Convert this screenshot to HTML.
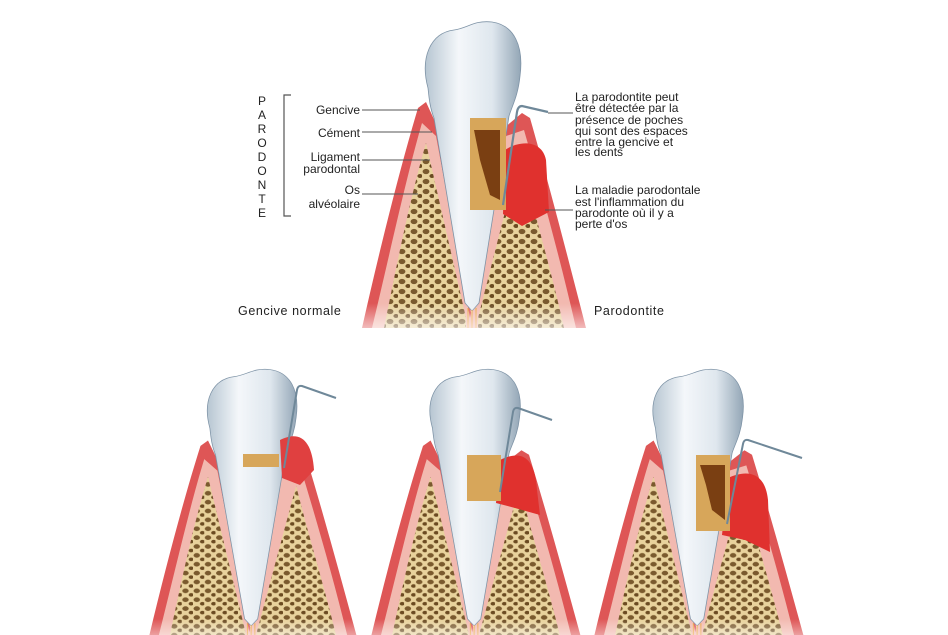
<!DOCTYPE html>
<html><head><meta charset="utf-8"><style>
body{margin:0;background:#fff;}
svg{display:block;}
text{font-family:"Liberation Sans",sans-serif;fill:#222;}
</style></head><body>
<svg width="948" height="635" viewBox="0 0 948 635" xmlns="http://www.w3.org/2000/svg">
<defs>
<pattern id="bone" width="12" height="10" patternUnits="userSpaceOnUse">
<rect width="12" height="10" fill="#e8d29c"/>
<ellipse cx="4" cy="3.5" rx="3.4" ry="2.6" fill="#7a5a2e"/>
<ellipse cx="10" cy="8" rx="2.6" ry="2" fill="#6b4b22"/>
</pattern>
<linearGradient id="tooth" x1="0" x2="1">
<stop offset="0" stop-color="#b7c6d2"/><stop offset="0.35" stop-color="#f4f7fa"/><stop offset="0.7" stop-color="#dfe7ee"/><stop offset="1" stop-color="#93a6b6"/>
</linearGradient>
<linearGradient id="fade" x1="0" y1="0" x2="0" y2="1">
<stop offset="0.92" stop-color="#fff" stop-opacity="0"/><stop offset="1" stop-color="#fff" stop-opacity="0.6"/>
</linearGradient>
<symbol id="t" viewBox="0 0 224 310" preserveAspectRatio="none">
<path d="M0,310 C18,230 38,150 56,90 L64,84 L76,110 L110,300 L142,110 L160,95 L168,100 C188,170 206,240 224,310 Z" fill="#de5656"/>
<path d="M10,310 C28,235 44,160 60,105 L74,118 L108,300 L144,118 L162,112 C180,175 198,240 214,310 Z" fill="#f2b9b0"/>
<path d="M22,310 C34,250 48,180 64,125 L104,300 L104,310 Z" fill="url(#bone)"/>
<path d="M202,310 C190,255 172,195 158,135 L116,300 L116,310 Z" fill="url(#bone)"/>
<path d="M66,70 C58,40 68,15 92,12 C106,10 112,2 130,4 C152,7 162,28 158,58 C156,78 150,88 147,98 L117,285 L110,293 L103,285 L72,100 C68,90 67,80 66,70 Z" fill="url(#tooth)" stroke="#7e93a6" stroke-width="0.8"/>
<path d="M106,290 L106,310 M110,292 L110,310 M114,290 L114,310" stroke="#e8a030" stroke-width="1"/>
<rect x="0" y="0" width="224" height="310" fill="url(#fade)"/>
</symbol>
</defs>

<use href="#t" x="362" y="18" width="224" height="310"/>
<path d="M505,150 C520,140 542,140 546,160 L549,212 L522,226 L503,214 Z" fill="#e0312e"/>
<rect x="470" y="118" width="36" height="92" fill="#d7a65a"/>
<path d="M474,130 L500,130 L500,200 L490,195 L480,160 Z" fill="#7a3f12"/>
<path d="M548,112 L522,106 Q518,106 517,112 L503,205" stroke="#6f8899" stroke-width="2.2" fill="none"/>

<use href="#t" x="148" y="366" width="210" height="275"/>
<path d="M280,440 C300,430 312,440 314,470 L300,485 L282,478 Z" fill="#e04040"/>
<rect x="243" y="454" width="36" height="13" fill="#d7a65a"/>
<path d="M336,398 L302,386 Q298,385 297,390 L284,468" stroke="#6f8899" stroke-width="2" fill="none"/>

<use href="#t" x="370" y="366" width="212" height="275"/>
<path d="M500,460 C520,450 535,455 537,490 L540,515 L515,508 L496,503 Z" fill="#e0312e"/>
<rect x="467" y="455" width="34" height="46" fill="#d7a65a"/>
<path d="M552,420 L518,408 Q514,407 513,412 L500,492" stroke="#6f8899" stroke-width="2" fill="none"/>

<use href="#t" x="593" y="366" width="212" height="275"/>
<path d="M728,478 C745,470 765,470 768,500 L770,552 L745,540 L722,535 Z" fill="#e0312e"/>
<rect x="696" y="455" width="34" height="76" fill="#d7a65a"/>
<path d="M700,465 L725,465 L725,520 L712,510 L706,485 Z" fill="#7a3f12"/>
<path d="M802,458 L748,440 Q744,439 743,444 L727,524" stroke="#6f8899" stroke-width="2" fill="none"/>

<g font-size="12">
<text x="262" y="105" text-anchor="middle">P</text>
<text x="262" y="119" text-anchor="middle">A</text>
<text x="262" y="133" text-anchor="middle">R</text>
<text x="262" y="147" text-anchor="middle">O</text>
<text x="262" y="161" text-anchor="middle">D</text>
<text x="262" y="175" text-anchor="middle">O</text>
<text x="262" y="189" text-anchor="middle">N</text>
<text x="262" y="203" text-anchor="middle">T</text>
<text x="262" y="217" text-anchor="middle">E</text>
</g>
<path d="M291,95 L284,95 L284,216 L291,216" stroke="#555" stroke-width="1.2" fill="none"/>
<g font-size="12" text-anchor="end">
<text x="360" y="114">Gencive</text>
<text x="360" y="137">Cément</text>
<text x="360" y="161">Ligament</text>
<text x="360" y="173">parodontal</text>
<text x="360" y="194">Os</text>
<text x="360" y="208">alvéolaire</text>
</g>
<g stroke="#555" stroke-width="1">
<line x1="362" y1="110" x2="420" y2="110"/>
<line x1="362" y1="132" x2="432" y2="132"/>
<line x1="362" y1="160" x2="430" y2="160"/>
<line x1="362" y1="194" x2="418" y2="194"/>
<line x1="548" y1="113" x2="573" y2="113"/>
<line x1="545" y1="210" x2="573" y2="210"/>
</g>
<g font-size="12">
<text x="575" y="101">La parodontite peut</text>
<text x="575" y="112">être détectée par la</text>
<text x="575" y="124">présence de poches</text>
<text x="575" y="135">qui sont des espaces</text>
<text x="575" y="146">entre la gencive et</text>
<text x="575" y="156">les dents</text>
<text x="575" y="194">La maladie parodontale</text>
<text x="575" y="206">est l'inflammation du</text>
<text x="575" y="217">parodonte où il y a</text>
<text x="575" y="228">perte d'os</text>
</g>
<text x="238" y="315" font-size="12.5" letter-spacing="0.6">Gencive normale</text>
<text x="594" y="315" font-size="12.5" letter-spacing="0.6">Parodontite</text>
</svg>
</body></html>
